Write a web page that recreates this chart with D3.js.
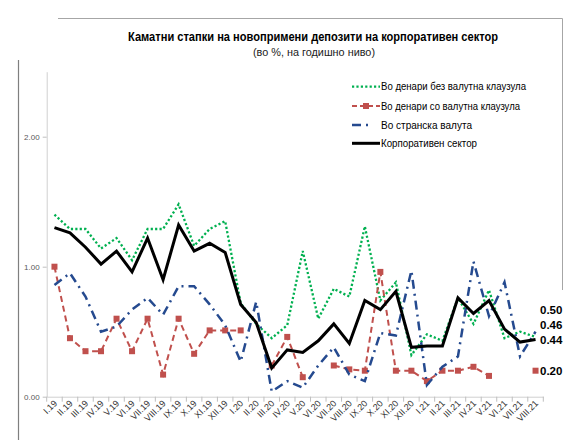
<!DOCTYPE html>
<html><head><meta charset="utf-8">
<script src="https://cdn.jsdelivr.net/npm/d3@7"></script>
<style>body{margin:0;background:#fff;} svg{display:block;font-family:"Liberation Sans",Arial,sans-serif;}</style>
</head><body><svg id="c" width="568" height="440"></svg>
<script>
const months = ["I.19","II.19","III.19","IV.19","V.19","VI.19","VII.19","VIII.19","IX.19","X.19","XI.19","XII.19",
  "I.20","II.20","III.20","IV.20","V.20","VI.20","VII.20","VIII.20","IX.20","X.20","XI.20","XII.20",
  "I.21","II.21","III.21","IV.21","V.21","VI.21","VII.21","VIII.21"];
const denNoClause = [1.40,1.29,1.29,1.14,1.22,1.05,1.29,1.29,1.48,1.16,1.29,1.35,0.72,0.56,0.45,0.55,1.12,0.60,0.83,0.77,1.31,0.74,0.88,0.32,0.48,0.43,0.76,0.56,0.82,0.45,0.50,0.46];
const denClause = [1.00,0.45,0.35,0.35,0.60,0.35,0.60,0.17,0.60,0.33,0.51,0.51,0.51,null,0.24,0.46,0.15,null,0.24,0.21,0.20,0.96,0.20,0.20,0.12,0.20,0.20,0.23,0.16,null,null,0.20];
const foreign = [0.86,0.95,0.77,0.50,0.54,0.67,0.76,0.63,0.85,0.85,0.71,0.55,0.27,0.73,0.04,0.12,0.07,0.24,0.38,0.17,0.12,0.49,0.47,0.97,0.09,0.23,0.31,1.04,0.62,0.88,0.31,0.50];
const corporate = [1.30,1.26,1.15,1.02,1.12,0.96,1.22,0.90,1.32,1.12,1.18,1.11,0.71,0.57,0.22,0.36,0.34,0.43,0.56,0.41,0.74,0.67,0.81,0.38,0.39,0.39,0.76,0.64,0.74,0.52,0.42,0.44];
const seriesNames = ["Во денари без валутна клаузула","Во денари со валутна клаузула","Во странска валута","Корпоративен сектор"];
const yTicks = [0,1,2];
const titleText = "Каматни стапки на новопримени депозити на корпоративен сектор";
const subtitleText = "(во %, на годишно ниво)";

const svg = d3.select("#c");
const x = d3.scaleBand().domain(months).range([46.7, 543.3]);
const y = d3.scaleLinear().domain([0, 2.5]).range([396.7, 71.7]);
const cx = m => x(m) + x.bandwidth()/2;

// frame
svg.append("path").attr("d","M58,18.5H562.5V290").attr("fill","none").attr("stroke","#a6a6a6").attr("stroke-width",1);
svg.append("path").attr("d","M18.5,60V440").attr("fill","none").attr("stroke","#7f7f7f").attr("stroke-width",1.2);

// title
svg.append("text").attr("x",313).attr("y",41).attr("text-anchor","middle")
  .attr("font-size",12).attr("font-weight","bold").attr("fill","#000")
  .attr("textLength",370).attr("lengthAdjust","spacingAndGlyphs").text(titleText);
svg.append("text").attr("x",314).attr("y",56).attr("text-anchor","middle")
  .attr("font-size",11).attr("fill","#222")
  .attr("textLength",122).attr("lengthAdjust","spacingAndGlyphs").text(subtitleText);

// y axis
const yAxis = svg.append("g").attr("transform","translate(46.7,0)")
  .call(d3.axisLeft(y).tickValues(yTicks).tickFormat(d3.format(".2f")).tickSize(4).tickSizeOuter(0));
yAxis.select(".domain").attr("stroke","#d0d0d0");
yAxis.selectAll(".tick line").attr("stroke","#bfbfbf");
yAxis.selectAll(".tick text").attr("font-size",8).attr("fill","#595959").attr("font-family","Liberation Sans, Arial").attr("x",-7);

// x axis
const xAxis = svg.append("g").attr("transform",`translate(0,${y(0)})`)
  .call(d3.axisBottom(x).tickSize(0).tickSizeOuter(0));
xAxis.select(".domain").attr("stroke","#d0d0d0");
xAxis.selectAll(".tick text").attr("font-size",9).attr("fill","#333")
  .attr("text-anchor","end").attr("y",0).attr("x",0).attr("dy","0.35em")
  .attr("transform","translate(1,5) rotate(-45)");
const bounds = months.map(m => x(m)).concat([x(months[months.length-1]) + x.bandwidth()]);
xAxis.selectAll(".bt").data(bounds).join("line").attr("class","bt")
  .attr("x1",d=>d).attr("x2",d=>d).attr("y1",0).attr("y2",5).attr("stroke","#bfbfbf");

const line = d3.line().defined(d => d[1] != null).x(d => cx(d[0])).y(d => y(d[1]));
const pairs = arr => months.map((m,i) => [m, arr[i]]);

const cGreen = "#00b050", cRed = "#c0504d", cBlue = "#254a8f";
const g = svg.append("g");
g.append("path").attr("d", line(pairs(denNoClause))).attr("fill","none").attr("stroke",cGreen)
  .attr("stroke-width",2.3).attr("stroke-dasharray","2.2,2.2");
g.append("path").attr("d", line(pairs(denClause))).attr("fill","none").attr("stroke",cRed)
  .attr("stroke-width",2).attr("stroke-dasharray","6,4");
g.selectAll(".mk").data(pairs(denClause).filter(d=>d[1]!=null)).join("rect").attr("class","mk")
  .attr("x",d=>cx(d[0])-3).attr("y",d=>y(d[1])-3).attr("width",6).attr("height",6).attr("fill",cRed);
g.append("path").attr("d", line(pairs(foreign))).attr("fill","none").attr("stroke",cBlue)
  .attr("stroke-width",2.5).attr("stroke-dasharray","9,5,2,5");
g.append("path").attr("d", line(pairs(corporate))).attr("fill","none").attr("stroke","#000")
  .attr("stroke-width",3).attr("stroke-linejoin","miter");

// end labels
const last = months.length-1;
const ends = [foreign[last], denNoClause[last], corporate[last], denClause[last]]
  .map(v => ({v, y: y(v)})).sort((a,b)=>a.v-b.v);
for (let i=1;i<ends.length;i++){ if (ends[i].y > ends[i-1].y - 15) ends[i].y = ends[i-1].y - 15; }
svg.selectAll(".endlbl").data(ends).join("text").attr("class","endlbl")
  .attr("x",540).attr("y",d=>d.y).attr("dy","0.35em").attr("font-size",11.5).attr("font-weight","bold")
  .attr("fill","#000").text(d=>d3.format(".2f")(d.v));

// legend
const leg = svg.append("g");
const ly = [86.7,106,125,143.3];
const lw = [145,139,91,96];
leg.append("line").attr("x1",352).attr("x2",380).attr("y1",ly[0]).attr("y2",ly[0]).attr("stroke",cGreen).attr("stroke-width",2.3).attr("stroke-dasharray","2.2,2.2");
leg.append("line").attr("x1",352).attr("x2",380).attr("y1",ly[1]).attr("y2",ly[1]).attr("stroke",cRed).attr("stroke-width",2).attr("stroke-dasharray","5,3");
leg.append("rect").attr("x",363).attr("y",ly[1]-3).attr("width",6).attr("height",6).attr("fill",cRed);
leg.append("line").attr("x1",352).attr("x2",380).attr("y1",ly[2]).attr("y2",ly[2]).attr("stroke",cBlue).attr("stroke-width",2.5).attr("stroke-dasharray","9,5,2,20");
leg.append("line").attr("x1",352).attr("x2",380).attr("y1",ly[3]).attr("y2",ly[3]).attr("stroke","#000").attr("stroke-width",3);
leg.selectAll(".lt").data(seriesNames).join("text").attr("class","lt")
  .attr("x",381).attr("y",(d,i)=>ly[i]).attr("dy","0.35em").attr("font-size",10.5).attr("fill","#000")
  .attr("textLength",(d,i)=>lw[i]).attr("lengthAdjust","spacingAndGlyphs").text(d=>d);
</script></body></html>
